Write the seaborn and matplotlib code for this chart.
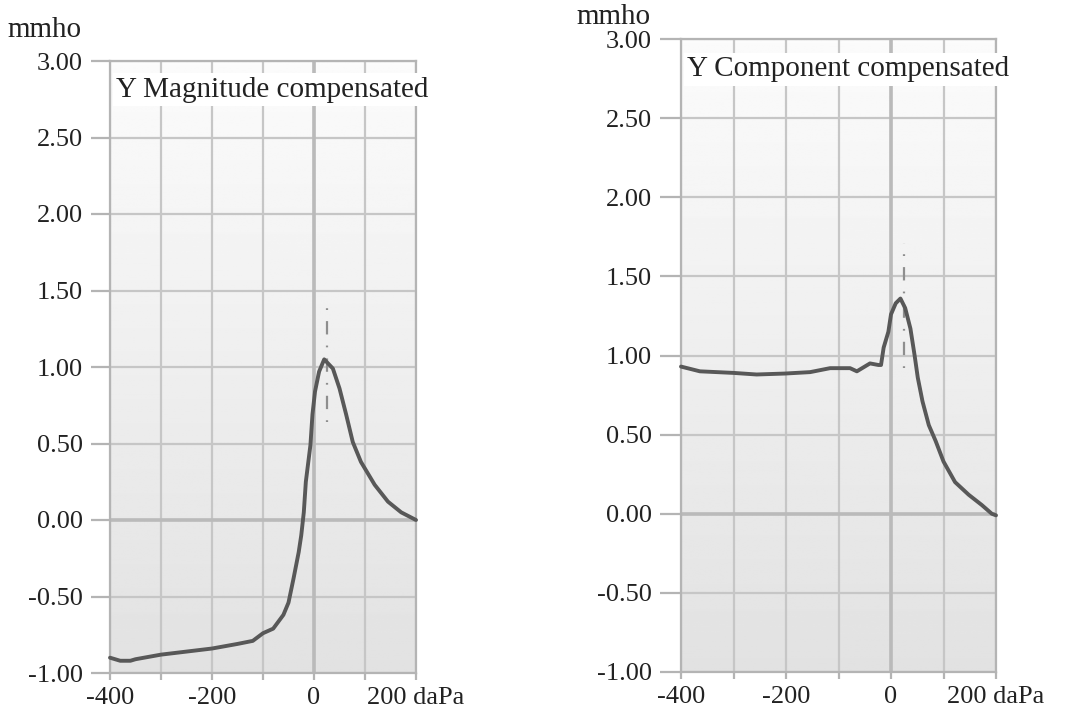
import numpy as np
import pandas as pd
import matplotlib
matplotlib.use("Agg")
import matplotlib.pyplot as plt
import seaborn as sns

# Tympanometry curves: pressure (daPa) vs admittance (mmho)
mag_pressure = [-400, -380, -360, -350, -300, -250, -200, -150, -120, -100, -80, -60,
                -50, -40, -30, -25, -20, -16, -7, -3, 2, 10, 20, 37, 50, 63, 76,
                92, 119, 145, 171, 200]
mag_values = [-0.90, -0.92, -0.92, -0.91, -0.88, -0.86, -0.84, -0.81, -0.79, -0.74,
              -0.71, -0.62, -0.54, -0.38, -0.21, -0.10, 0.05, 0.25, 0.49, 0.69, 0.84,
              0.97, 1.05, 0.99, 0.86, 0.69, 0.51, 0.38, 0.23, 0.12, 0.05, 0.00]

comp_pressure = [-400, -364, -300, -256, -202, -154, -116, -78, -65, -40, -24, -19,
                 -14, -5, 0, 9, 18, 27, 37, 45, 51, 60, 72, 85, 100, 122, 148, 173,
                 192, 200]
comp_values = [0.93, 0.90, 0.89, 0.88, 0.886, 0.895, 0.92, 0.92, 0.90, 0.95, 0.94,
               0.94, 1.05, 1.15, 1.26, 1.33, 1.36, 1.30, 1.17, 1.00, 0.86, 0.71, 0.56,
               0.46, 0.33, 0.20, 0.12, 0.055, 0.00, -0.01]

# Peak pressure marker (dash-dot vertical segment): x, y-start, y-end
mag_marker = (25, 0.64, 1.43)
comp_marker = (25, 0.92, 1.71)

x_ticks = [-400, -300, -200, -100, 0, 100, 200]
x_tick_labels = ["-400", "", "-200", "", "0", "", "200 daPa"]
y_ticks = [-1.0, -0.5, 0.0, 0.5, 1.0, 1.5, 2.0, 2.5, 3.0]
y_unit = "mmho"
titles = ["Y Magnitude compensated", "Y Component compensated"]

sns.set_theme(style="white")
plt.rcParams["font.family"] = ["Liberation Serif", "DejaVu Serif"]

W, H = 1068, 714
fig = plt.figure(figsize=(W / 100, H / 100), dpi=100)

panels = [
    dict(rect=(110 / W, 1 - 673 / H, 306 / W, 612 / H),
         x=mag_pressure, y=mag_values, marker=mag_marker, title=titles[0],
         ylen=13.5, unit_pos=(7 / W, 1 - 30 / H)),
    dict(rect=(681 / W, 1 - 672 / H, 315 / W, 633 / H),
         x=comp_pressure, y=comp_values, marker=comp_marker, title=titles[1],
         ylen=15, unit_pos=(576 / W, 1 - 17 / H)),
]

grid_c = "#c6c6c6"
axis_c = "#b4b4b4"
text_c = "#222222"

for p in panels:
    ax = fig.add_axes(p["rect"])

    # vertical background gradient: near white at the top, light grey at the bottom
    grad = np.linspace(0.985, 0.885, 256).reshape(-1, 1)
    ax.imshow(grad, extent=(-400, 200, -1.0, 3.0), aspect="auto",
              cmap="gray", vmin=0, vmax=1, zorder=0, origin="upper")
    ax.set_xlim(-400, 200)
    ax.set_ylim(-1.0, 3.0)

    ax.set_axisbelow(True)
    ax.grid(True, color=grid_c, linewidth=1.6, zorder=1)
    ax.axvline(0, color="#bababa", linewidth=2.6, zorder=1.2)
    ax.axhline(0, color="#bababa", linewidth=2.6, zorder=1.2)

    for s in ax.spines.values():
        s.set_color(axis_c)
        s.set_linewidth(1.6)

    ax.set_xticks(x_ticks)
    ax.set_xticklabels(x_tick_labels)
    ax.set_yticks(y_ticks)
    ax.set_yticklabels([f"{v:.2f}" for v in y_ticks])
    ax.tick_params(axis="y", left=True, length=p["ylen"], width=1.6,
                   color=axis_c, pad=6, labelsize=19, labelcolor=text_c)
    ax.tick_params(axis="x", bottom=True, length=5, width=1.6,
                   color=axis_c, pad=5, labelsize=19, labelcolor=text_c)

    df = pd.DataFrame({"pressure": p["x"], "admittance": p["y"]})
    sns.lineplot(data=df, x="pressure", y="admittance", ax=ax,
                 color="#585858", linewidth=2.8, zorder=3, clip_on=False)
    ax.set_xlabel("")
    ax.set_ylabel("")

    mx, y0, y1 = p["marker"]
    ax.plot([mx, mx], [y0, y1], color="#8e8e8e", linewidth=1.6,
            linestyle=(0, (0.8, 5, 6, 5)), zorder=2.5)

    ax.text(-388, 2.765, p["title"], fontsize=21, color=text_c,
            va="baseline", ha="left", zorder=4,
            bbox=dict(facecolor="white", edgecolor="none", pad=2.5))

    fig.text(p["unit_pos"][0], p["unit_pos"][1], y_unit, fontsize=21,
             color=text_c, ha="left", va="center")

fig.savefig("out.png", dpi=100)
